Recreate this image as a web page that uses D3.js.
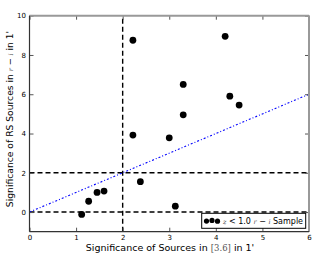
<!DOCTYPE html>
<html>
<head>
<meta charset="utf-8">
<script src="https://cdn.jsdelivr.net/npm/d3@7"></script>
<style>
  body { margin: 0; background: #fff; }
  svg { display: block; font-family: "DejaVu Sans", sans-serif; }
</style>
</head>
<body>
<svg width="318" height="257"></svg>
<script>
const xVals = [1.12, 1.27, 1.45, 1.6, 2.22, 2.22, 2.38, 3.0, 3.13, 3.3, 3.3, 4.2, 4.3, 4.5],
  yVals = [-0.12, 0.55, 1.0, 1.07, 8.75, 3.92, 1.55, 3.78, 0.3, 6.5, 4.95, 8.95, 5.9, 5.45],
  xTicks = [0, 1, 2, 3, 4, 5, 6],
  yTicks = [0, 2, 4, 6, 8, 10],
  hLines = [0, 2],
  vLines = [2],
  oneToOne = [[0, 0], [6, 6]]

const svg = d3.select('svg'),
  pLeft = 29.5, pRight = 309, pTop = 15.7, pBottom = 231.7,
  scaleX = d3.scaleLinear().domain([0, 6]).range([pLeft, pRight]),
  scaleY = d3.scaleLinear().domain([-1, 10]).range([pBottom, pTop]),
  line = d3.line().x(d => scaleX(d[0])).y(d => scaleY(d[1]))

// reference lines
hLines.forEach(v => {
  svg.append('path')
    .attr('d', line([[0, v], [6, v]]))
    .attr('stroke', '#000').attr('stroke-width', 1.4)
    .attr('stroke-dasharray', '5,3').attr('fill', 'none')
})
vLines.forEach(v => {
  svg.append('path')
    .attr('d', line([[v, -1], [v, 10]]))
    .attr('stroke', '#000').attr('stroke-width', 1.4)
    .attr('stroke-dasharray', '5,3').attr('fill', 'none')
})
svg.append('path')
  .attr('d', line(oneToOne))
  .attr('stroke', '#0000ff').attr('stroke-width', 1.1)
  .attr('stroke-dasharray', '2,2,1,2').attr('fill', 'none')

// points
svg.append('g').selectAll('circle')
  .data(xVals.map((x, i) => [x, yVals[i]]))
  .join('circle')
  .attr('cx', d => scaleX(d[0]))
  .attr('cy', d => scaleY(d[1]))
  .attr('r', 3.4)
  .attr('fill', '#000')

// axes (ticks inward)
const axB = svg.append('g').attr('transform', `translate(0,${pBottom})`)
  .call(d3.axisBottom(scaleX).tickValues(xTicks).tickSize(-4).tickPadding(3).tickFormat(d3.format('d')))
const axT = svg.append('g').attr('transform', `translate(0,${pTop})`)
  .call(d3.axisTop(scaleX).tickValues(xTicks).tickSize(-4).tickFormat(''))
const axL = svg.append('g').attr('transform', `translate(${pLeft},0)`)
  .call(d3.axisLeft(scaleY).tickValues(yTicks).tickSize(-4).tickPadding(3.5).tickFormat(d3.format('d')))
const axR = svg.append('g').attr('transform', `translate(${pRight},0)`)
  .call(d3.axisRight(scaleY).tickValues(yTicks).tickSize(-4).tickFormat(''))
;[axB, axT, axL, axR].forEach(a => {
  a.selectAll('.domain').remove()
  a.selectAll('.tick line').attr('stroke', '#555')
  a.selectAll('text').attr('font-size', 7).attr('font-family', '"DejaVu Sans", sans-serif').attr('fill', '#000')
})

// spines
svg.append('line').attr('x1', pLeft).attr('x2', pRight).attr('y1', pTop).attr('y2', pTop)
  .attr('stroke', '#999').attr('stroke-width', 2)
svg.append('line').attr('x1', pRight).attr('x2', pRight).attr('y1', pTop).attr('y2', pBottom)
  .attr('stroke', '#999').attr('stroke-width', 2)
svg.append('line').attr('x1', pLeft).attr('x2', pLeft).attr('y1', pTop).attr('y2', pBottom)
  .attr('stroke', '#333').attr('stroke-width', 1.2)
svg.append('line').attr('x1', pLeft).attr('x2', pRight).attr('y1', pBottom).attr('y2', pBottom)
  .attr('stroke', '#333').attr('stroke-width', 1.2)

// axis labels
const xl = svg.append('text').attr('x', 170).attr('y', 251)
  .attr('text-anchor', 'middle').attr('font-size', 9.5)
xl.append('tspan').text('Significance of Sources in ')
xl.append('tspan').attr('font-family', '"DejaVu Serif", serif').attr('fill', '#555').attr('font-size', 8.5).text('[3.6]')
xl.append('tspan').text(' in 1\'')

const yl = svg.append('text')
  .attr('transform', 'translate(12.5,119) rotate(-90)')
  .attr('text-anchor', 'middle').attr('font-size', 9.2)
yl.append('tspan').text('Significance of RS Sources in ')
yl.append('tspan').attr('font-family', '"DejaVu Serif", serif').attr('font-style', 'italic').attr('font-size', 6.5).attr('fill', '#555').text('r')
yl.append('tspan').attr('font-size', 8.5).text(' − ')
yl.append('tspan').attr('font-family', '"DejaVu Serif", serif').attr('font-style', 'italic').attr('font-size', 6.5).attr('fill', '#555').text('i')
yl.append('tspan').text(' in 1\'')

// legend
const lg = svg.append('g')
lg.append('rect').attr('x', 201.7).attr('y', 213.3).attr('width', 104).attr('height', 15)
  .attr('fill', '#fff').attr('stroke', '#000').attr('stroke-width', 1)
;[206.5, 212, 217.5].forEach((cx, i) => {
  lg.append('circle').attr('cx', cx).attr('cy', 220.8 + [0.3, -0.4, 0.4][i]).attr('r', 2.6).attr('fill', '#000')
})
const lt = lg.append('text').attr('x', 223).attr('y', 223.6).attr('font-size', 8)
lt.append('tspan').attr('font-family', '"DejaVu Serif", serif').attr('font-style', 'italic').attr('font-size', 6.5).attr('fill', '#555').text('z')
lt.append('tspan').text(' < 1.0 ')
lt.append('tspan').attr('font-family', '"DejaVu Serif", serif').attr('font-style', 'italic').attr('font-size', 6.5).attr('fill', '#555').text('r')
lt.append('tspan').text(' − ')
lt.append('tspan').attr('font-family', '"DejaVu Serif", serif').attr('font-style', 'italic').attr('font-size', 6.5).attr('fill', '#555').text('i')
lt.append('tspan').text(' Sample')
</script>
</body>
</html>
